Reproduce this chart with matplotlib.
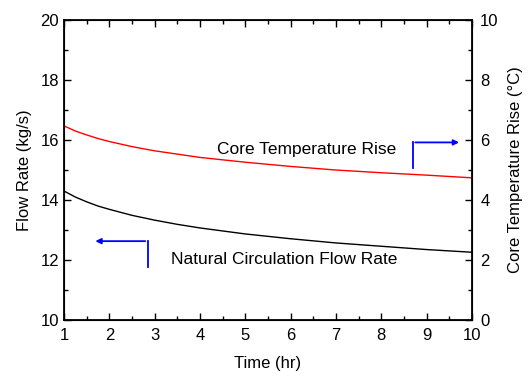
import matplotlib
matplotlib.use('Agg')
import matplotlib.pyplot as plt
from matplotlib.ticker import MultipleLocator

plt.rcParams['font.family'] = ['Liberation Sans', 'DejaVu Sans']

# valores
time_hr = [1, 1.25, 1.5, 1.75, 2, 2.5, 3, 3.5, 4, 5, 6, 7, 8, 9, 10]
flow_rate = [14.30, 14.10, 13.94, 13.80, 13.69, 13.49, 13.33, 13.19, 13.07,
             12.87, 12.71, 12.57, 12.46, 12.35, 12.26]
core_rise = [6.47, 6.30, 6.17, 6.05, 5.95, 5.78, 5.64, 5.53, 5.42,
             5.26, 5.12, 5.00, 4.91, 4.83, 4.74]

fig = plt.figure(figsize=(5.29, 3.77), dpi=100)
ax = fig.add_axes([0.121, 0.151, 0.771, 0.796])
ax2 = ax.twinx()

ax.plot(time_hr, flow_rate, color='black', lw=1.0)
ax2.plot(time_hr, core_rise, color='red', lw=1.0)

ax.set_xlim(1, 10)
ax.set_ylim(10, 20)
ax2.set_ylim(0, 10)

ax.xaxis.set_major_locator(MultipleLocator(1))
ax.xaxis.set_minor_locator(MultipleLocator(0.5))
ax.yaxis.set_major_locator(MultipleLocator(2))
ax.yaxis.set_minor_locator(MultipleLocator(1))
ax2.yaxis.set_major_locator(MultipleLocator(2))
ax2.yaxis.set_minor_locator(MultipleLocator(1))

ax.tick_params(which='both', direction='in', top=True, right=False, labelsize=12)
ax.tick_params(which='major', length=5, width=1)
ax.tick_params(which='minor', length=3, width=1)
ax.tick_params(axis='x', pad=6)
ax2.tick_params(which='both', direction='in', labelsize=12, pad=6)
ax2.tick_params(which='major', length=5, width=1)
ax2.tick_params(which='minor', length=3, width=1)

for sp in ax2.spines.values():
    sp.set_linewidth(1.3)

ax.set_xlabel('Time (hr)', fontsize=12, labelpad=9)
ax.set_ylabel('Flow Rate (kg/s)', fontsize=12, labelpad=6)
ax2.set_ylabel('Core Temperature Rise (\u00b0C)', fontsize=12, labelpad=7)

ax.text(3.35, 12.03, 'Natural Circulation Flow Rate', fontsize=12.5, va='center', ha='left')
ax.text(4.37, 15.7, 'Core Temperature Rise', fontsize=12.5, va='center', ha='left')

# flechas indicadoras
ax.plot([2.855, 2.855], [11.76, 12.63], color='blue', lw=1.3)
ax.annotate('', xy=(1.63, 12.63), xytext=(2.855, 12.63),
            arrowprops=dict(arrowstyle='-|>', color='blue', lw=1.3, mutation_scale=8))
ax.plot([8.69, 8.69], [15.06, 15.92], color='blue', lw=1.3)
ax.annotate('', xy=(9.78, 15.92), xytext=(8.69, 15.92),
            arrowprops=dict(arrowstyle='-|>', color='blue', lw=1.3, mutation_scale=8))

plt.savefig('out.png', dpi=100)
